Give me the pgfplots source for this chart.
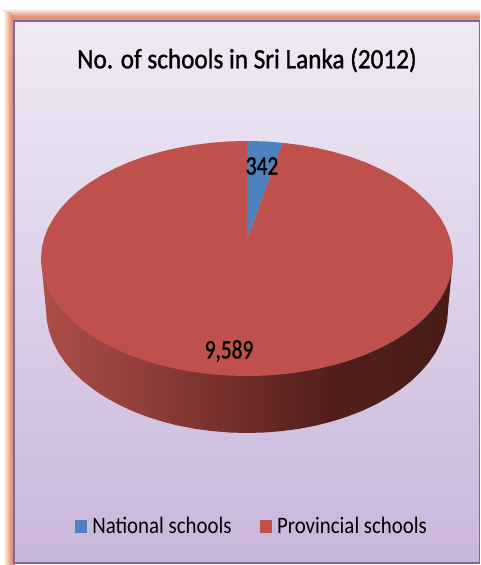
\documentclass[border=0pt]{standalone}
\usepackage{pgfplots}
\pgfplotsset{compat=1.18}
\usepackage{fontspec}
\setmainfont{Carlito}
\newfontfamily\titlefont[FakeStretch=0.9,FakeBold=1.2]{Carlito}
\newfontfamily\labelfont[FakeStretch=0.8,FakeBold=1]{Carlito}
\newfontfamily\legendfont[FakeStretch=0.885]{Carlito}
\definecolor{natblue}{HTML}{4F81BD}
\definecolor{provred}{HTML}{BF504C}
\definecolor{glow}{HTML}{E59478}
\definecolor{frameline}{HTML}{7F64A6}
\definecolor{paneltop}{HTML}{EFEAF5}
\definecolor{panelbot}{HTML}{C9B6DB}
\definecolor{wall1}{HTML}{AC4E48}
\definecolor{wall2}{HTML}{8F3E39}
\definecolor{wall3}{HTML}{6F2B29}
\definecolor{wall4}{HTML}{521F1C}
\definecolor{wall5}{HTML}{481C18}
\pgfdeclarehorizontalshading{wall}{100bp}{
    color(0bp)=(wall1); color(25bp)=(wall1); color(38bp)=(wall2); color(50bp)=(wall3);
    color(60bp)=(wall4); color(75bp)=(wall5); color(100bp)=(wall5)}
\begin{document}
\begin{tikzpicture}
\begin{axis}[
    scale only axis,
    width=360pt, height=423.75pt,
    xmin=0, xmax=480, ymin=0, ymax=565,
    y dir=reverse,
    hide axis,
    clip=false,
    legend style={at={(axis cs:252.3,526.5)}, anchor=center, draw=none, fill=none,
        legend columns=2, font=\fontsize{17.7}{19}\legendfont, inner sep=0pt,
        /tikz/every even column/.append style={column sep=19pt}},
    legend cell align=left,
    legend image code/.code={\fill[#1] (0pt,-4.6pt) rectangle (9pt,4.6pt); \path (11pt,0pt);},
]
% frame and panel
\fill[white] (axis cs:0,0) rectangle (axis cs:480,565);
\fill[top color=white, bottom color=glow] (axis cs:3,8) rectangle (axis cs:480,16);
\fill[glow] (axis cs:12,16) rectangle (axis cs:480,21);
\fill[left color=white, right color=glow] (axis cs:3,12) rectangle (axis cs:11,565);
\fill[glow] (axis cs:11,15) rectangle (axis cs:14.5,565);
\path[draw=frameline, line width=1.1pt, top color=paneltop, bottom color=panelbot]
    (axis cs:14,21) rectangle (axis cs:479.5,563);

% side wall of the disc
\addplot[draw=none, forget plot, shade, shading=wall]
 coordinates {(41,258.5)(453,258.5)(448,310)(447.2,320.7)(444.9,331.4)(441.1,341.8)(435.9,352.1)(429.2,362)(421.1,371.5)(411.7,380.6)(401,389.1)(389.1,397)(376.2,404.2)(362.3,410.8)(347.5,416.5)(331.9,421.5)(315.7,425.6)(299,428.8)(281.9,431.1)(264.5,432.5)(247,433)(229.5,432.5)(212.1,431.1)(195,428.8)(178.3,425.6)(162.1,421.5)(146.5,416.5)(131.7,410.8)(117.8,404.2)(104.9,397)(93,389.1)(82.3,380.6)(72.9,371.5)(64.8,362)(58.1,352.1)(52.9,341.8)(49.1,331.4)(46.8,320.7)(46,310)} -- cycle;

% National schools: 342
\addplot[fill=natblue, draw=none] coordinates {(247,240)(247,141)(265,141.4)(282.8,142.8)} -- cycle;
\addlegendentry{National schools}

% Provincial schools: 9,589
\addplot[fill=provred, draw=none] coordinates {(247,240)(282.8,142.8)(300.3,145)(317.5,148.1)(334.1,152)(350,156.7)(365.2,162.2)(379.4,168.5)(392.7,175.4)(404.8,183)(415.8,191.1)(425.4,199.7)(433.7,208.8)(440.6,218.3)(446,228.1)(449.9,238.1)(452.2,248.3)(453,258.5)(452.2,268.7)(449.9,278.9)(446,288.9)(440.6,298.7)(433.7,308.2)(425.4,317.3)(415.8,325.9)(404.8,334)(392.7,341.6)(379.4,348.5)(365.2,354.8)(350,360.3)(334.1,365)(317.5,368.9)(300.3,372)(282.8,374.2)(265,375.6)(247,376)(229,375.6)(211.2,374.2)(193.7,372)(176.5,368.9)(159.9,365)(144,360.3)(128.8,354.8)(114.6,348.5)(101.3,341.6)(89.2,334)(78.2,325.9)(68.6,317.3)(60.3,308.2)(53.4,298.7)(48,288.9)(44.1,278.9)(41.8,268.7)(41,258.5)(41.8,248.3)(44.1,238.1)(48,228.1)(53.4,218.3)(60.3,208.8)(68.6,199.7)(78.2,191.1)(89.2,183)(101.3,175.4)(114.6,168.5)(128.8,162.2)(144,156.7)(159.9,152)(176.5,148.1)(193.7,145)(211.2,142.8)(229,141.4)(247,141)} -- cycle;
\addlegendentry{Provincial schools}

\node[font=\fontsize{21}{23}\titlefont] at (axis cs:247,60) {No. of schools in Sri Lanka (2012)};
\node[font=\fontsize{20}{22}\labelfont] at (axis cs:262,166) {342};
\node[font=\fontsize{20}{22}\labelfont] at (axis cs:229,351) {9,589};
\end{axis}
\end{tikzpicture}
\end{document}
